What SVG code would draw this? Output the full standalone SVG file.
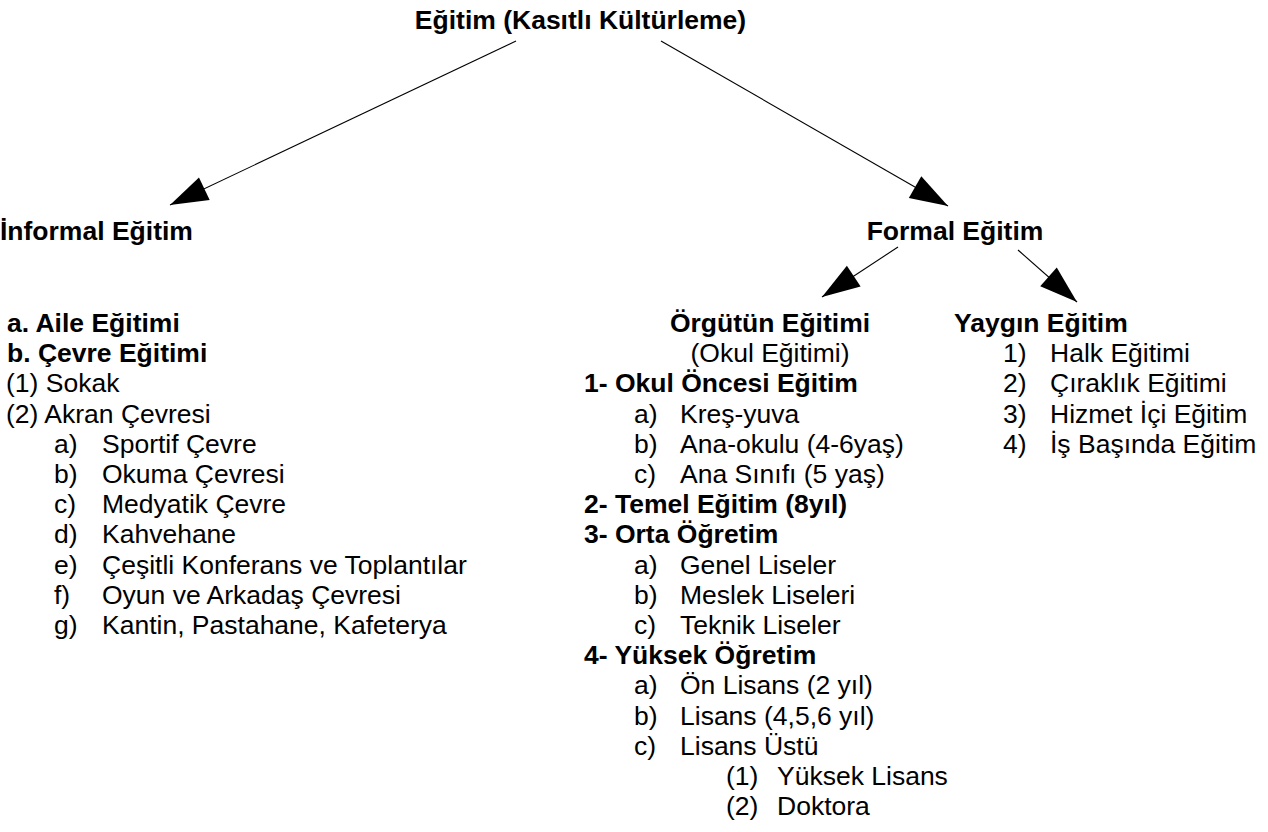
<svg xmlns="http://www.w3.org/2000/svg" width="1268" height="832" viewBox="0 0 1268 832">
<style>
text{font-family:"Liberation Sans",Arial,sans-serif;font-size:26.5px;fill:#000}
.b{font-weight:bold}
.m{text-anchor:middle}
.ln{stroke:#000;stroke-width:1.1;fill:none}
</style>
<defs>
<marker id="ah" markerUnits="userSpaceOnUse" markerWidth="40" markerHeight="28" refX="38" refY="12.5" orient="auto" overflow="visible">
<path d="M0,0 L38,12.5 L0,25 Z" fill="#000"/>
</marker>
</defs>
<rect width="1268" height="832" fill="#fff"/>
<g id="connectors">
<line class="ln" x1="516" y1="41" x2="170" y2="205" marker-end="url(#ah)"/>
<line class="ln" x1="661" y1="41" x2="948" y2="206" marker-end="url(#ah)"/>
<line class="ln" x1="898" y1="247" x2="822" y2="297" marker-end="url(#ah)"/>
<line class="ln" x1="1018" y1="250" x2="1077" y2="302" marker-end="url(#ah)"/>
</g>
<g id="root"><text class="b m" x="580.5" y="29">Eğitim (Kasıtlı Kültürleme)</text></g>
<g id="informal"><text class="b" x="0" y="240">İnformal Eğitim</text></g>
<g id="formal"><text class="b m" x="955" y="240">Formal Eğitim</text></g>
<g id="informal-list">
<text class="b" x="7" y="332">a. Aile Eğitimi</text>
<text class="b" x="7" y="362.2">b. Çevre Eğitimi</text>
<text x="6" y="392.4">(1) Sokak</text>
<text x="6" y="422.6">(2) Akran Çevresi</text>
<text x="54" y="452.8">a)</text><text x="102" y="452.8">Sportif Çevre</text>
<text x="54" y="483">b)</text><text x="102" y="483">Okuma Çevresi</text>
<text x="54" y="513.2">c)</text><text x="102" y="513.2">Medyatik Çevre</text>
<text x="54" y="543.4">d)</text><text x="102" y="543.4">Kahvehane</text>
<text x="54" y="573.6">e)</text><text x="102" y="573.6">Çeşitli Konferans ve Toplantılar</text>
<text x="54" y="603.8">f)</text><text x="102" y="603.8">Oyun ve Arkadaş Çevresi</text>
<text x="54" y="634">g)</text><text x="102" y="634">Kantin, Pastahane, Kafeterya</text>
</g>
<g id="orgutun">
<text class="b m" x="770" y="332">Örgütün Eğitimi</text>
<text class="m" x="770" y="362.2">(Okul Eğitimi)</text>
<text class="b" x="584" y="392.4">1- Okul Öncesi Eğitim</text>
<text x="634" y="422.6">a)</text><text x="680" y="422.6">Kreş-yuva</text>
<text x="634" y="452.8">b)</text><text x="680" y="452.8">Ana-okulu (4-6yaş)</text>
<text x="634" y="483">c)</text><text x="680" y="483">Ana Sınıfı (5 yaş)</text>
<text class="b" x="584" y="513.2">2- Temel Eğitim (8yıl)</text>
<text class="b" x="584" y="543.4">3- Orta Öğretim</text>
<text x="634" y="573.6">a)</text><text x="680" y="573.6">Genel Liseler</text>
<text x="634" y="603.8">b)</text><text x="680" y="603.8">Meslek Liseleri</text>
<text x="634" y="634">c)</text><text x="680" y="634">Teknik Liseler</text>
<text class="b" x="584" y="664.2">4- Yüksek Öğretim</text>
<text x="634" y="694.4">a)</text><text x="680" y="694.4">Ön Lisans (2 yıl)</text>
<text x="634" y="724.6">b)</text><text x="680" y="724.6">Lisans (4,5,6 yıl)</text>
<text x="634" y="754.8">c)</text><text x="680" y="754.8">Lisans Üstü</text>
<text x="726" y="785">(1)</text><text x="777" y="785">Yüksek Lisans</text>
<text x="726" y="815.2">(2)</text><text x="777" y="815.2">Doktora</text>
</g>
<g id="yaygin">
<text class="b" x="954" y="332">Yaygın Eğitim</text>
<text x="1003" y="362.2">1)</text><text x="1050" y="362.2">Halk Eğitimi</text>
<text x="1003" y="392.4">2)</text><text x="1050" y="392.4">Çıraklık Eğitimi</text>
<text x="1003" y="422.6">3)</text><text x="1050" y="422.6">Hizmet İçi Eğitim</text>
<text x="1003" y="452.8">4)</text><text x="1050" y="452.8">İş Başında Eğitim</text>
</g>
</svg>
